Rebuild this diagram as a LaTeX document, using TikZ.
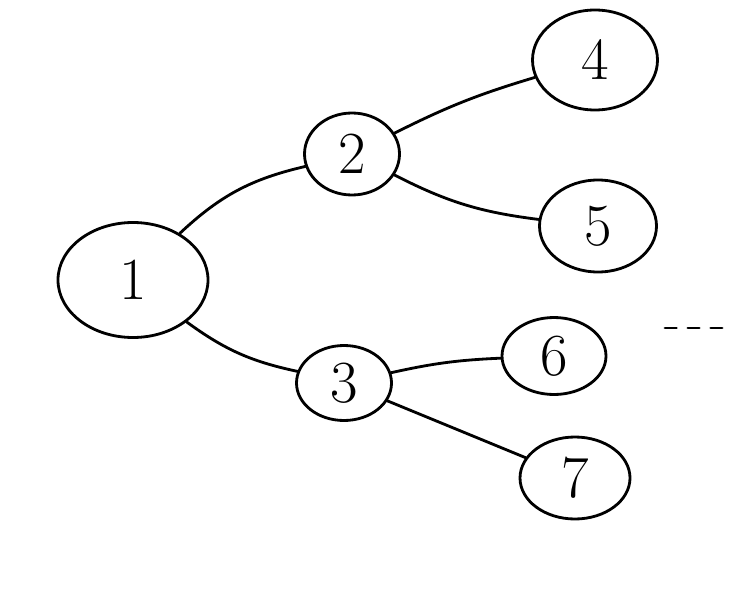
\documentclass[tikz,border=0pt]{standalone}
\usepackage{tikz}
\usetikzlibrary{shapes.geometric}

\begin{document}
\begin{tikzpicture}[x=0.02cm,y=-0.02cm,line width=1.6pt,line cap=round,
    vert/.style={draw,ellipse,inner sep=0pt,font=\fontsize{34}{34}\selectfont}]
  \useasboundingbox (0,0) rectangle (753,591);
  % tree nodes
  \node[vert,minimum width=150*0.02cm,minimum height=115*0.02cm] (n1) at (133,280) {1};
  \node[vert,minimum width=95*0.02cm,minimum height=82*0.02cm] (n2) at (352,154) {2};
  \node[vert,minimum width=95*0.02cm,minimum height=75*0.02cm] (n3) at (344,383) {3};
  \node[vert,minimum width=125*0.02cm,minimum height=100*0.02cm] (n4) at (595,60) {4};
  \node[vert,minimum width=117*0.02cm,minimum height=92*0.02cm] (n5) at (598,226) {5};
  \node[vert,minimum width=104*0.02cm,minimum height=77*0.02cm] (n6) at (554,356) {6};
  \node[vert,minimum width=110*0.02cm,minimum height=82*0.02cm] (n7) at (575,478) {7};
  % edges
  \draw (n1) to[bend left=15] (n2);
  \draw (n1) to[bend right=12] (n3);
  \draw (n2) to[bend left=5] (n4);
  \draw (n2) to[bend right=10] (n5);
  \draw (n3) to[bend left=5] (n6);
  \draw (n3) -- (n7);
  % more to come
  \coordinate (more1) at (665,328);
  \coordinate (more2) at (727,328);
  \draw[dash pattern=on 6.5pt off 6.5pt] (more1) -- (more2);
\end{tikzpicture}
\end{document}
